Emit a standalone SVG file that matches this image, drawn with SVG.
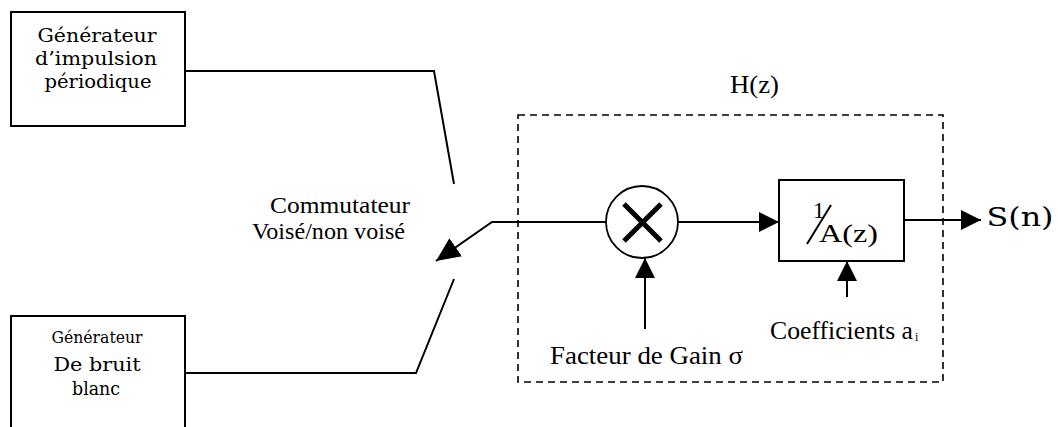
<svg xmlns="http://www.w3.org/2000/svg" width="1058" height="427" viewBox="0 0 1058 427">
<style>
.box{fill:#fff;stroke:#000;stroke-width:2}
.ln{fill:none;stroke:#000;stroke-width:2}
.dash{fill:none;stroke:#000;stroke-width:1.6;stroke-dasharray:7 5}
.gen{font-family:'DejaVu Serif',serif;fill:#000;text-anchor:middle}
.tm{font-family:'Liberation Serif',serif;fill:#000}
</style>
<defs>
<marker id="arr" viewBox="0 0 20 20" refX="20" refY="10" markerWidth="20" markerHeight="20" markerUnits="userSpaceOnUse" orient="auto">
<path d="M0,0 L20,10 L0,20 z" fill="#000"/>
</marker>
<marker id="arrL" viewBox="0 0 24 22" refX="24" refY="11" markerWidth="24" markerHeight="22" markerUnits="userSpaceOnUse" orient="auto">
<path d="M0,0 L24,11 L0,22 z" fill="#000"/>
</marker>
</defs>
<g id="hz-frame">
<rect class="dash" x="518" y="115" width="425" height="267"/>
<text class="tm" x="730" y="93" style="font-size:25px" textLength="49" lengthAdjust="spacingAndGlyphs">H(z)</text>
</g>
<g id="gen-impulsion">
<rect class="box" x="11" y="12" width="174" height="114"/>
<text class="gen" x="97" y="42" style="font-size:19px" textLength="119" lengthAdjust="spacingAndGlyphs">Générateur</text>
<text class="gen" x="96" y="65" style="font-size:19px" textLength="122" lengthAdjust="spacingAndGlyphs">d’impulsion</text>
<text class="gen" x="98" y="88" style="font-size:19px" textLength="107" lengthAdjust="spacingAndGlyphs">périodique</text>
</g>
<g id="gen-bruit">
<rect class="box" x="11" y="316" width="174" height="130"/>
<text class="gen" x="97" y="343" style="font-size:16px" textLength="91" lengthAdjust="spacingAndGlyphs">Générateur</text>
<text class="gen" x="97" y="371" style="font-size:19px" textLength="87" lengthAdjust="spacingAndGlyphs">De bruit</text>
<text class="gen" x="96" y="395" style="font-size:18px" textLength="48" lengthAdjust="spacingAndGlyphs">blanc</text>
</g>
<g id="commutateur">
<text class="tm" x="270" y="213" style="font-size:24px" textLength="140" lengthAdjust="spacingAndGlyphs">Commutateur</text>
<text class="tm" x="252" y="239" style="font-size:24px" textLength="153" lengthAdjust="spacingAndGlyphs">Voisé/non voisé</text>
</g>
<g id="multiplieur">
<circle cx="642" cy="222" r="36" fill="#fff" stroke="#000" stroke-width="1.8"/>
<path d="M624,204 L661,241 M661,204 L624,241" stroke="#000" stroke-width="5" fill="none"/>
</g>
<g id="filtre">
<rect class="box" x="779" y="180" width="125" height="81"/>
<text class="tm" x="813" y="218" style="font-size:23px">1</text>
<path d="M807,244 L831,205" stroke="#000" stroke-width="2"/>
<text class="tm" x="819" y="242" style="font-size:26px" textLength="59" lengthAdjust="spacingAndGlyphs">A(z)</text>
</g>
<g id="labels">
<text class="tm" x="550" y="364" style="font-size:26px" textLength="193" lengthAdjust="spacingAndGlyphs">Facteur de Gain σ</text>
<text class="tm" x="770" y="339" style="font-size:25px" textLength="143" lengthAdjust="spacingAndGlyphs">Coefficients a</text>
<text class="tm" x="915" y="341" style="font-size:12px">i</text>
<text class="gen" x="1020" y="226" style="font-size:26px" textLength="67" lengthAdjust="spacingAndGlyphs">S(n)</text>
</g>
<g id="connectors">
<polyline class="ln" points="185,71 434,71 454,184"/>
<polyline class="ln" points="185,373 416,373 454,279"/>
<polyline class="ln" points="606,222 492,222 436,261" marker-end="url(#arrL)"/>
<line class="ln" x1="678" y1="222" x2="779" y2="222" marker-end="url(#arr)"/>
<line class="ln" x1="904" y1="220" x2="981" y2="220" marker-end="url(#arr)"/>
<line class="ln" x1="645" y1="329" x2="645" y2="258" marker-end="url(#arr)"/>
<line class="ln" x1="847" y1="297" x2="847" y2="261" marker-end="url(#arr)"/>
</g>
</svg>
